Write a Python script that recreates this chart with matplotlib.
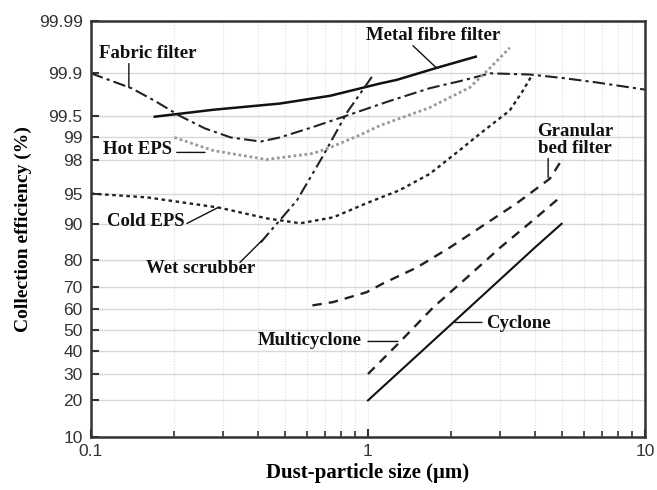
import numpy as np
import matplotlib
matplotlib.use("Agg")
import matplotlib.pyplot as plt
from matplotlib.ticker import FixedLocator, FixedFormatter, LogLocator, NullFormatter, NullLocator
from statistics import NormalDist

# data (x: particle size in um, y: efficiency in %)
fabric_x = [0.1, 0.14, 0.17, 0.21, 0.258, 0.32, 0.41, 0.48, 0.63, 0.84, 1.2, 1.67, 2.2, 2.76, 3.84, 5.0, 6.7, 10]
fabric_y = [99.9, 99.82, 99.71, 99.5, 99.24, 98.98, 98.84, 98.98, 99.27, 99.51, 99.71, 99.82, 99.867, 99.9,
            99.895, 99.88, 99.856, 99.81]

metal_x = [0.17, 0.276, 0.48, 0.73, 1.105, 1.27, 1.77, 2.45]
metal_y = [99.49, 99.6, 99.68, 99.76, 99.85, 99.87, 99.92, 99.95]

hot_x = [0.2, 0.276, 0.43, 0.633, 0.73, 0.96, 1.105, 1.67, 2.33, 2.76, 3.25]
hot_y = [98.98, 98.47, 98.0, 98.33, 98.6, 99.1, 99.31, 99.63, 99.825, 99.92, 99.966]

wet_x = [0.41, 0.48, 0.554, 0.688, 0.84, 1.04]
wet_y = [85.5, 90.7, 94.1, 98.2, 99.56, 99.89]

cold_x = [0.1, 0.16, 0.29, 0.43, 0.57, 0.75, 0.99, 1.30, 1.67, 2.15, 2.54, 3.25, 3.62, 3.9]
cold_y = [95, 94.5, 93, 91.1, 90.1, 91.3, 93.7, 95.4, 97.0, 98.5, 99.1, 99.59, 99.8, 99.89]

granular_x = [0.63, 0.748, 0.99, 1.13, 1.5, 1.98, 2.6, 3.45, 4.54, 4.93]
granular_y = [61.8, 63.3, 67.7, 71.3, 77.5, 84.1, 89.6, 93.7, 96.6, 97.8]

multi_x = [1.0, 1.3, 1.72, 2.28, 3.0, 3.94, 4.93]
multi_y = [30, 44.3, 60.9, 73.8, 84, 90.7, 94.5]

cyclone_x = [1, 2, 3, 4, 5]
cyclone_y = [20, 53, 73, 84, 90]

y_ticks = [10, 20, 30, 40, 50, 60, 70, 80, 90, 95, 98, 99, 99.5, 99.9, 99.99]
y_labels = ["10", "20", "30", "40", "50", "60", "70", "80", "90", "95", "98", "99", "99.5", "99.9", "99.99"]

nd = NormalDist()


def probit(p):
    p = np.asarray(p, dtype=float)
    q = np.clip(p / 100.0, 1e-9, 1 - 1e-9)
    return np.array([nd.inv_cdf(v) for v in q.ravel()]).reshape(q.shape)


def unprobit(z):
    z = np.asarray(z, dtype=float)
    return np.array([nd.cdf(v) for v in z.ravel()]).reshape(z.shape) * 100.0


serif = ["Liberation Serif", "DejaVu Serif"]

fig = plt.figure(figsize=(6.57, 4.90), dpi=100)
ax = fig.add_axes([0.1385, 0.1082, 0.8432, 0.8489])
ax.set_xscale("log")
ax.set_yscale("function", functions=(probit, unprobit))
ax.set_xlim(0.1, 10)
ax.set_ylim(10, 99.99)

lw = 1.7
ax.plot(fabric_x, fabric_y, color="#222222", lw=1.5, ls=(0, (6, 2, 1.5, 2)))
ax.plot(metal_x, metal_y, color="#111111", lw=1.8, ls="-")
ax.plot(hot_x, hot_y, color="#9a9a9a", lw=2.0, ls=(0, (1, 1)))
ax.plot(wet_x, wet_y, color="#222222", lw=1.5, ls=(0, (6, 2, 1.5, 2, 1.5, 2)))
ax.plot(cold_x, cold_y, color="#222222", lw=lw, ls=(0, (1.5, 1.5)))
ax.plot(granular_x, granular_y, color="#222222", lw=lw, ls=(0, (4, 3)))
ax.plot(multi_x, multi_y, color="#222222", lw=lw, ls=(0, (4, 3)))
ax.plot(cyclone_x, cyclone_y, color="#111111", lw=1.5, ls="-")

# ticks and grid
ax.yaxis.set_major_locator(FixedLocator(y_ticks))
ax.yaxis.set_major_formatter(FixedFormatter(y_labels))
ax.yaxis.set_minor_locator(NullLocator())
ax.xaxis.set_major_locator(LogLocator(base=10))
ax.xaxis.set_minor_locator(LogLocator(base=10, subs=np.arange(2, 10)))
ax.xaxis.set_minor_formatter(NullFormatter())
ax.set_xticks([0.1, 1, 10], ["0.1", "1", "10"])
ax.grid(True, axis="y", which="major", color="#d8d8d8", lw=1.0, ls="-")
ax.grid(True, axis="x", which="both", color="#dddddd", lw=0.8, ls=(0, (1, 1.5)))
ax.set_axisbelow(True)

for s in ax.spines.values():
    s.set_linewidth(1.8)
    s.set_color("#333333")
ax.tick_params(axis="both", which="major", direction="in", length=6, width=1.5, color="#333333",
               labelsize=12.5, labelcolor="#333333")
ax.tick_params(axis="x", which="minor", direction="in", length=4, width=1.2, color="#333333")
ax.tick_params(axis="x", which="major", pad=5)
ax.tick_params(axis="y", which="major", pad=6)
for lab in ax.get_xticklabels() + ax.get_yticklabels():
    lab.set_family(["Liberation Sans", "DejaVu Sans"])

ax.set_xlabel("Dust-particle size (\u03bcm)", family=serif, fontweight="bold", fontsize=15, labelpad=3)
ax.set_ylabel("Collection efficiency (%)", family=serif, fontweight="bold", fontsize=14, labelpad=5)

# labels with leader lines
tk = dict(family=serif, fontweight="bold", fontsize=13.5, color="#111111", ha="center", va="center",
          transform=ax.transAxes)
lk = dict(arrowprops=dict(arrowstyle="-", color="#111111", lw=1.0, shrinkA=0, shrinkB=0))

ax.text(0.102, 0.923, "Fabric filter", **tk)
ax.annotate("", xy=(0.137, 99.825), xytext=(0.137, 99.933), **lk)

ax.text(0.617, 0.966, "Metal fibre filter", **tk)
ax.annotate("", xy=(1.775, 99.918), xytext=(1.453, 99.969), **lk)

ax.text(0.084, 0.692, "Hot EPS", **tk)
ax.annotate("", xy=(0.258, 98.38), xytext=(0.204, 98.38), **lk)

ax.text(0.099, 0.517, "Cold EPS", **tk)
ax.annotate("", xy=(0.287, 93.0), xytext=(0.222, 90.07), **lk)

ax.text(0.197, 0.406, "Wet scrubber", **tk)
ax.annotate("", xy=(0.414, 86.0), xytext=(0.345, 79.3), **lk)

ax.text(0.874, 0.714, "Granular\nbed filter", linespacing=1.0, **tk)
ax.annotate("", xy=(4.47, 96.7), xytext=(4.47, 98.06), **lk)

ax.text(0.395, 0.233, "Multicyclone", **tk)
ax.annotate("", xy=(1.283, 44.7), xytext=(1.0, 44.7), **lk)

ax.text(0.772, 0.272, "Cyclone", **tk)
ax.annotate("", xy=(2.06, 53.8), xytext=(2.58, 53.8), **lk)

fig.savefig("out.png", dpi=100)
